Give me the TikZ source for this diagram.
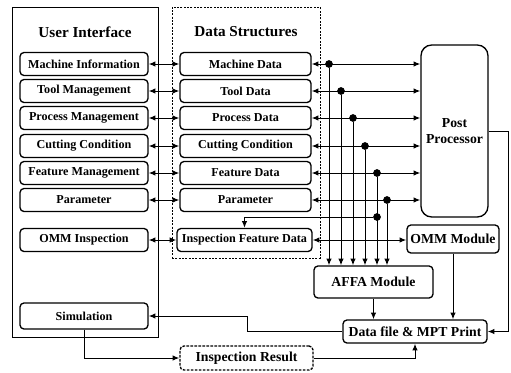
\documentclass[tikz,border=0pt]{standalone}
\usepackage{fontspec}
\setmainfont{Liberation Serif}
\usetikzlibrary{arrows.meta}
\begin{document}
\begin{tikzpicture}[x=0.75pt,y=-0.75pt,
  >={Latex[length=5pt,width=4pt]},
  conn/.style={line width=0.75pt},
  rbox/.style={draw,line width=1pt,rounded corners=3pt,inner sep=1pt,
    font=\bfseries\fontsize{9.1}{10}\selectfont,align=center},
  uibox/.style={rbox,minimum width=96pt,minimum height=17.25pt},
  dsbox/.style={rbox,minimum width=98.25pt,minimum height=17.25pt},
  bigbox/.style={rbox,font=\bfseries\fontsize{10.3}{12}\selectfont},
  frame/.style={draw,line width=0.6pt,inner sep=0pt},
  title/.style={font=\bfseries\fontsize{11.4}{13}\selectfont},
  junction/.style={circle,fill,inner sep=0pt,minimum size=5.8pt}]
\useasboundingbox (0,0) rectangle (511,372);

% outer frames
\node[frame,minimum width=109.5pt,minimum height=247.5pt] (uiframe) at (85,172) {};
\node[frame,dash pattern=on 1.5pt off 1pt,minimum width=111pt,minimum height=188.25pt] (dsframe) at (246,132.5) {};
\node[title] (uititle) at (85,32) {User Interface};
\node[title] (dstitle) at (246,32) {Data Structures};

% user interface column
\node[uibox] (ui1) at (84,64)  {Machine Information};
\node[uibox] (ui2) at (84,91)  {Tool Management};
\node[uibox] (ui3) at (84,118) {Process Management};
\node[uibox] (ui4) at (84,146) {Cutting Condition};
\node[uibox] (ui5) at (84,173) {Feature Management};
\node[uibox] (ui6) at (84,200) {Parameter};
\node[uibox] (ui7) at (84,240) {OMM Inspection};
\node[uibox,minimum height=19.5pt] (sim) at (84,316) {Simulation};

% data structures column
\node[dsbox] (ds1) at (245.5,64)  {Machine Data};
\node[dsbox] (ds2) at (245.5,91)  {Tool Data};
\node[dsbox] (ds3) at (245.5,118) {Process Data};
\node[dsbox] (ds4) at (245.5,146) {Cutting Condition};
\node[dsbox] (ds5) at (245.5,173) {Feature Data};
\node[dsbox] (ds6) at (245.5,200) {Parameter};
\node[dsbox,minimum width=101.25pt] (ifd) at (244.5,240) {Inspection Feature Data};

% processing modules
\node[bigbox,rounded corners=8pt,minimum width=50.25pt,minimum height=129pt] (post) at (454.5,131) {Post\\Processor};
\node[bigbox,minimum width=89.25pt,minimum height=24pt] (affa) at (373.5,282) {AFFA Module};
\node[bigbox,minimum width=69pt,minimum height=21pt] (omm) at (453,239) {OMM Module};
\node[bigbox,minimum width=108pt,minimum height=17.25pt] (dfile) at (415,331.5) {Data file \& MPT Print};
\node[bigbox,dash pattern=on 2pt off 1pt,minimum width=99.75pt,minimum height=18pt] (insp) at (246.5,358) {Inspection Result};

% interface <-> data links
\foreach \i in {1,...,6}
  \draw[conn,<->] (ui\i.east) -- (ds\i.west);
\draw[conn,<->] (ui7.east) -- (ifd.west);

% data -> post processor, with taps down to the AFFA module
\foreach \i/\x in {1/329,2/341,3/353,4/365,5/377,6/387} {
  \draw[conn,<->] (ds\i.east) -- (ds\i.east -| post.west);
  \node[junction] (j\i) at (\x,0 |- ds\i.east) {};
  \draw[conn,->] (j\i) -- (j\i |- affa.north);
}

% feature data -> inspection feature data
\node[junction] (j7) at (377,217) {};
\draw[conn,->] (j7) -| (ifd.north);

% inspection feature data <-> OMM module
\draw[conn,<->] (ifd.east) -- (ifd.east -| omm.west);

% outputs to the data file
\draw[conn,->] (affa.south) -- (affa.south |- dfile.north);
\draw[conn,->] (omm.south) -- (omm.south |- dfile.north);
\coordinate (postbend) at (508,0);
\draw[conn,->] (post.east) -- (post.east -| postbend) |- (dfile.east);

% data file -> simulation -> inspection result -> data file
\coordinate (simbend) at (247,0);
\draw[conn,->] (dfile.west) -- (dfile.west -| simbend) |- (sim.east);
\draw[conn,->] (sim.south) |- (insp.west);
\draw[conn,->] (insp.east) -| (dfile.south);
\end{tikzpicture}
\end{document}
